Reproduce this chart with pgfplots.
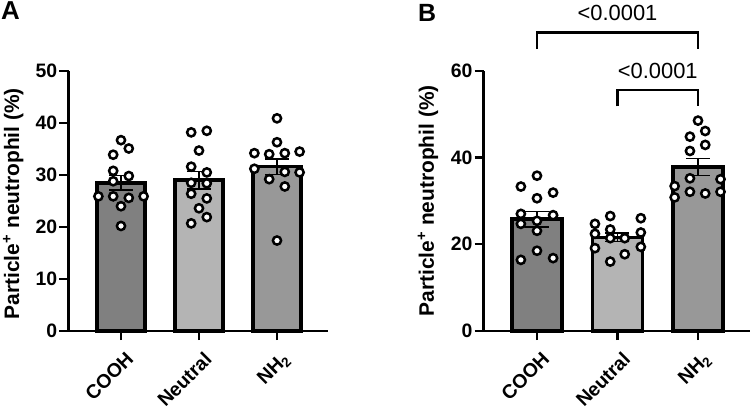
\documentclass[border=0pt]{standalone}
\usepackage{fontspec}
\setmainfont{Liberation Sans}
\usepackage{pgfplots}
\pgfplotsset{compat=1.18}

\definecolor{cCOOH}{RGB}{128,128,128}
\definecolor{cNeu}{RGB}{180,180,180}
\definecolor{cNH}{RGB}{152,152,152}

\pgfplotsset{
  panel/.style={
    scale only axis,
    anchor=south west,
    axis lines=left,
    axis line style={line width=2.6bp,-},
    enlargelimits=false,
    clip=false,
    tick align=outside,
    major tick length=9bp,
    every tick/.style={line width=2.4bp,black},
    xtick={0,1,2},
    xticklabels={COOH,Neutral,NH\textsubscript{2}},
    /pgf/number format/assume math mode=true,
    tick label style={font=\bfseries\fontsize{19.5}{19.5}\selectfont},
    xticklabel style={yshift=-9bp,xshift=4bp,rotate=45,anchor=north east,inner sep=1bp},
    yticklabel style={inner sep=2bp},
    ylabel={Particle\textsuperscript{+} neutrophil (\%)},
    ylabel style={font=\bfseries\fontsize{21}{21}\selectfont,anchor=center},
  },
  bars/.style={ybar,bar shift=0pt,bar width=0.62,draw=black,line width=3.5bp,
    error bars/y dir=both,error bars/y explicit,
    error bars/error bar style={line width=1.3bp,black},
    error bars/error mark options={rotate=90,mark size=12bp,line width=1.3bp,black}},
  pts/.style={only marks,mark=*,mark size=4.1bp,
    mark options={fill=white,draw=black,line width=2.5bp}},
}

\begin{document}
\begin{tikzpicture}
\path (0,0) rectangle (752bp,-411bp);

% Panel A
\begin{axis}[panel,
  at={(68.5bp,-331bp)},
  x=78bp, y=5.2bp,
  xmin=-0.673, xmax=2.654, ymin=0, ymax=50,
  ytick={0,10,20,30,40,50},
  ylabel style={at={(axis description cs:-0.213,0.49)}},
]
\addplot[bars,fill=cCOOH] coordinates {(0,28.5) +- (0,1.4)};
\addplot[bars,fill=cNeu] coordinates {(1,29.0) +- (0,1.7)};
\addplot[bars,fill=cNH] coordinates {(2,31.6) +- (0,1.5)};
\addplot[pts] coordinates {
 (0,36.7) (-0.1,33.9) (0.1,35.1) (-0.1,30.8) (0.1,29.8) (-0.1,28.8)
 (-0.29,25.9) (-0.1,25.9) (0.1,25.6) (0.29,25.9) (0,24.0) (0,20.2)};
\addplot[pts] coordinates {
 (0.9,38.2) (1.1,38.5) (1,34.7) (0.9,31.6) (1.1,30.5) (0.9,28.5)
 (1.1,28.4) (0.9,26.4) (1.1,25.5) (1,23.6) (1.1,21.9) (0.9,20.7)};
\addplot[pts] coordinates {
 (2,40.9) (2,36.3) (1.71,34.2) (1.9,34.0) (2.1,34.2) (2.29,34.5)
 (1.71,31.2) (2.1,30.6) (2.29,30.5) (1.9,29.2) (2.1,27.8) (2,17.4)};
\end{axis}

% Panel B
\begin{axis}[panel,
  at={(483.7bp,-331bp)},
  x=80.5bp, y=4.338bp,
  xmin=-0.662, xmax=2.646, ymin=0, ymax=60,
  ytick={0,20,40,60},
  ylabel style={at={(axis description cs:-0.209,0.5)}},
]
\addplot[bars,fill=cCOOH] coordinates {(0,25.8) +- (0,1.8)};
\addplot[bars,fill=cNeu] coordinates {(1,21.6) +- (0,1.0)};
\addplot[bars,fill=cNH] coordinates {(2,37.8) +- (0,1.9)};
\addplot[pts] coordinates {
 (0,35.8) (-0.2,33.3) (0,30.6) (0.2,31.9) (-0.2,27.0) (0.2,26.7)
 (-0.2,24.7) (0,25.4) (0,23.1) (0,18.5) (-0.2,16.4) (0.2,16.8)};
\addplot[pts] coordinates {
 (0.91,26.5) (0.72,24.7) (1.29,26.0) (0.91,23.4) (0.72,22.4) (1.29,22.7)
 (0.91,21.4) (1.09,21.4) (0.72,19.1) (1.29,19.4) (1.09,17.7) (0.91,16.0)};
\addplot[pts] coordinates {
 (2,48.5) (1.9,44.8) (2.09,46.1) (2.09,42.9) (1.9,41.5) (1.9,35.2)
 (2.28,35.0) (1.71,33.4) (2.09,31.7) (1.9,32.1) (2.28,32.1) (1.71,30.8)};
\draw[line width=2.6bp] (axis cs:0,65.0) -- (axis cs:0,68.8) -- (axis cs:2,68.8) -- (axis cs:2,65.0);
\draw[line width=2.6bp] (axis cs:1,51.8) -- (axis cs:1,55.6) -- (axis cs:2,55.6) -- (axis cs:2,51.8);
\node[font=\fontsize{22}{22}\selectfont] at (axis cs:1,73.4) {<0.0001};
\node[font=\fontsize{22}{22}\selectfont] at (axis cs:1.5,60.0) {<0.0001};
\end{axis}

\node[font=\bfseries\fontsize{26}{26}\selectfont,anchor=north west,inner sep=0pt] at (1bp,-1.5bp) {A};
\node[font=\bfseries\fontsize{25}{25}\selectfont,anchor=north west,inner sep=0pt] at (418bp,-4bp) {B};

\pgfresetboundingbox
\path (0,0) rectangle (752bp,-411bp);
\end{tikzpicture}
\end{document}
